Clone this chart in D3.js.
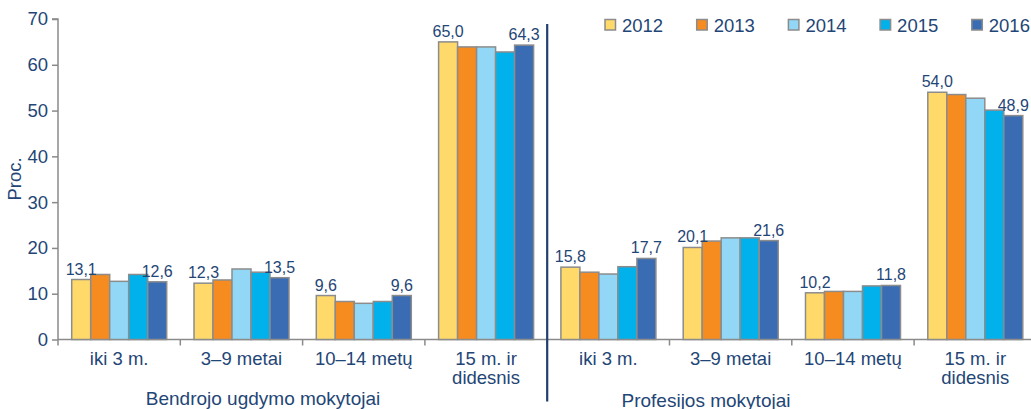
<!DOCTYPE html>
<html><head><meta charset="utf-8">
<script src="https://cdn.jsdelivr.net/npm/d3@7"></script>
<style>body{margin:0;background:#fff}svg{display:block}text{font-family:"Liberation Sans",Arial,sans-serif;fill:#1f4676}</style>
</head><body><svg id="c" width="1031" height="409"></svg>
<script>
const categories = ["iki 3 m.", "3–9 metai", "10–14 metų", "15 m. ir\ndidesnis"];
const groups = ["Bendrojo ugdymo mokytojai", "Profesijos mokytojai"];
const years = ["2012", "2013", "2014", "2015", "2016"];
const colors = ["#ffda6a", "#f68b1f", "#92d8f6", "#00b1eb", "#3a6cb3"];
// values[category][year]
const bendrojo = [
  [13.1, 14.2, 12.7, 14.2, 12.6],
  [12.3, 13.0, 15.4, 14.7, 13.5],
  [9.6, 8.3, 7.9, 8.3, 9.6],
  [65.0, 63.9, 63.9, 62.8, 64.3]
];
const profesijos = [
  [15.8, 14.7, 14.3, 15.9, 17.7],
  [20.1, 21.5, 22.2, 22.2, 21.6],
  [10.2, 10.5, 10.5, 11.7, 11.8],
  [54.0, 53.5, 52.7, 50.1, 48.9]
];
// which years get a value label, per category
const labelled = [[0,4],[0,4],[0,4],[0,4]];
const yTicks = [0,10,20,30,40,50,60,70];

const svg = d3.select("#c");
const y = d3.scaleLinear().domain([0,70]).range([339.5,19]);
const slots = [];
groups.forEach((g,gi)=>categories.forEach((c,ci)=>slots.push(gi+"|"+ci)));
const x0 = d3.scaleBand().domain(slots).range([58, 58+8*122.3]).padding(0);
const x1 = d3.scaleBand().domain(years).range([13.7, 13.7+95]).padding(0);

const data = [bendrojo, profesijos];

// y axis
const ya = svg.append("g").attr("transform","translate(58,0)")
  .call(d3.axisLeft(y).tickValues(yTicks).tickSize(6).tickPadding(4));
ya.select(".domain").attr("stroke","#8a8a8a").attr("stroke-width",1.5).attr("d","M-6,19H0V339.5");
ya.selectAll(".tick line").attr("stroke","#8a8a8a").attr("stroke-width",1.5);
ya.selectAll(".tick text").attr("font-size",18.5).style("fill","#1f4676").attr("font-family","Liberation Sans, Arial, sans-serif");

// x axis
const xa = svg.append("g").attr("transform","translate(0,339.5)");
xa.append("line").attr("x1",58).attr("x2",1031).attr("stroke","#8a8a8a").attr("stroke-width",1.5);
slots.forEach((s,i)=>{
  const xx = x0(s);
  xa.append("line").attr("x1",xx).attr("x2",xx).attr("y1",0).attr("y2",6).attr("stroke","#8a8a8a").attr("stroke-width",1.5);
});

// bars
data.forEach((grp,gi)=>{
  grp.forEach((vals,ci)=>{
    const gx = x0(gi+"|"+ci);
    const g = svg.append("g").attr("transform",`translate(${gx},0)`);
    g.selectAll("rect").data(vals).join("rect")
      .attr("x",(d,i)=>x1(years[i]))
      .attr("y",d=>y(d))
      .attr("width",x1.bandwidth())
      .attr("height",d=>y(0)-y(d))
      .attr("fill",(d,i)=>colors[i])
      .attr("stroke","#8c8c8c").attr("stroke-width",1.5);
    labelled[ci].forEach(i=>{
      g.append("text").attr("x",x1(years[i])+x1.bandwidth()/2).attr("y",y(vals[i])-5)
        .attr("text-anchor","middle").attr("font-size",16)
        .text(vals[i].toFixed(1).replace(".",","));
    });
    // category label
    const lines = categories[ci].split("\n");
    const cx = gx + x0.bandwidth()/2;
    lines.forEach((l,li)=>svg.append("text").attr("x",cx).attr("y",365 + li*19)
      .attr("text-anchor","middle").attr("font-size",18.5).text(l));
  });
});

// group labels
svg.append("text").attr("x",263).attr("y",405).attr("text-anchor","middle").attr("font-size",19).text(groups[0]);
svg.append("text").attr("x",706).attr("y",406.5).attr("text-anchor","middle").attr("font-size",19).text(groups[1]);

// separator
svg.append("line").attr("x1",x0("1|0")).attr("x2",x0("1|0")).attr("y1",24).attr("y2",401.5)
  .attr("stroke","#1f3f6e").attr("stroke-width",2.2);

// y title
svg.append("text").attr("transform","translate(21,179) rotate(-90)").attr("text-anchor","middle")
  .attr("font-size",18.5).text("Proc.");

// legend
years.forEach((yr,i)=>{
  const lx = 605 + i*91.7;
  svg.append("rect").attr("x",lx).attr("y",19.5).attr("width",10.5).attr("height",10.5)
    .attr("fill",colors[i]).attr("stroke","#8c8c8c").attr("stroke-width",1.5);
  svg.append("text").attr("x",lx+17).attr("y",31.5).attr("font-size",18.5).text(yr);
});
</script></body></html>
